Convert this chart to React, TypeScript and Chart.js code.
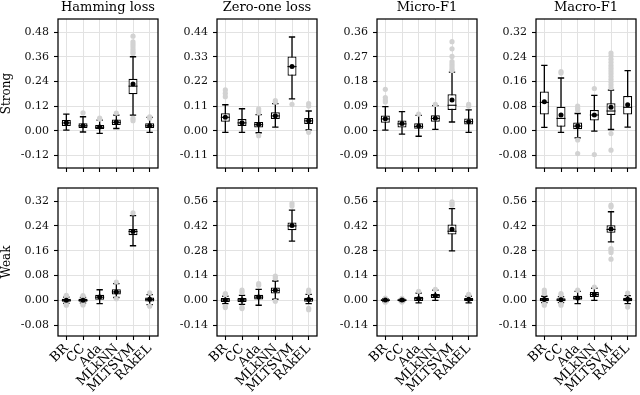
import React, { useEffect, useRef } from "react";
import { Chart, registerables } from "chart.js";
Chart.register(...registerables);

const methods = ["BR", "CC", "Ada", "MLkNN", "MLTSVM", "RAkEL"];
const metrics = ["Hamming loss", "Zero-one loss", "Micro-F1", "Macro-F1"];
const settings = ["Strong", "Weak"];

const strongTicks = [
  ["-0.12", "0.00", "0.12", "0.24", "0.36", "0.48"],
  ["-0.11", "0.00", "0.11", "0.22", "0.33", "0.44"],
  ["-0.09", "0.00", "0.09", "0.18", "0.27", "0.36"],
  ["-0.08", "0.00", "0.08", "0.16", "0.24", "0.32"],
];
const weakTicks = [
  ["-0.08", "0.00", "0.08", "0.16", "0.24", "0.32"],
  ["-0.14", "0.00", "0.14", "0.28", "0.42", "0.56"],
  ["-0.14", "0.00", "0.14", "0.28", "0.42", "0.56"],
  ["-0.14", "0.00", "0.14", "0.28", "0.42", "0.56"],
];

// each box: [lower whisker, Q1, median, Q3, upper whisker]
const strongHammingBoxes = [
  [0.003, 0.023, 0.038, 0.052, 0.081],
  [-0.006, 0.013, 0.024, 0.036, 0.068],
  [-0.013, 0.008, 0.017, 0.028, 0.052],
  [0.011, 0.028, 0.041, 0.055, 0.076],
  [0.076, 0.178, 0.217, 0.253, 0.36],
  [-0.008, 0.013, 0.024, 0.036, 0.065],
];
const strongHammingMeans = [0.039, 0.024, 0.018, 0.042, 0.227, 0.024];
const strongHammingOutliers = [
  [],
  [0.087],
  [0.062, 0.057],
  [0.086],
  [0.46, 0.432, 0.42, 0.408, 0.395, 0.384, 0.376, 0.06, 0.049],
  [0.068, 0.061],
];

const strongZeroOneBoxes = [
  [-0.007, 0.04, 0.06, 0.078, 0.116],
  [-0.007, 0.021, 0.035, 0.052, 0.098],
  [-0.009, 0.015, 0.027, 0.039, 0.072],
  [0.016, 0.052, 0.066, 0.082, 0.121],
  [0.142, 0.245, 0.286, 0.331, 0.418],
  [0.004, 0.03, 0.044, 0.057, 0.088],
];
const strongZeroOneMeans = [0.06, 0.036, 0.028, 0.067, 0.286, 0.045];
const strongZeroOneOutliers = [
  [0.182, 0.167, 0.152],
  [],
  [0.098, 0.089, 0.08, -0.022],
  [0.134, 0.128],
  [0.118],
  [0.121, 0.11, -0.007],
];

const strongMicroBoxes = [
  [0.002, 0.029, 0.043, 0.056, 0.088],
  [-0.012, 0.012, 0.025, 0.037, 0.07],
  [-0.02, 0.007, 0.016, 0.027, 0.056],
  [0.005, 0.033, 0.045, 0.057, 0.092],
  [0.032, 0.076, 0.093, 0.133, 0.214],
  [-0.006, 0.023, 0.033, 0.045, 0.076],
];
const strongMicroMeans = [0.044, 0.026, 0.017, 0.046, 0.112, 0.033];
const strongMicroOutliers = [
  [0.151, 0.121, 0.112, 0.105],
  [],
  [0.061],
  [0.096],
  [0.325, 0.299, 0.271, 0.252, 0.243, 0.234, 0.226, 0.22],
  [0.096, 0.09],
];

const strongMacroBoxes = [
  [0.011, 0.053, 0.092, 0.127, 0.212],
  [-0.005, 0.013, 0.04, 0.078, 0.171],
  [-0.023, 0.005, 0.015, 0.027, 0.056],
  [-0.001, 0.033, 0.051, 0.067, 0.115],
  [0.004, 0.051, 0.064, 0.089, 0.132],
  [0.012, 0.053, 0.076, 0.113, 0.195],
];
const strongMacroMeans = [0.094, 0.051, 0.016, 0.051, 0.076, 0.084];
const strongMacroOutliers = [
  [],
  [0.192, 0.187],
  [0.08, 0.073, 0.067, -0.03, -0.074],
  [0.137, -0.077],
  [0.252, 0.243, 0.232, 0.222, 0.212, 0.203, 0.194, 0.185, 0.176, 0.167, 0.158, 0.149, 0.14, -0.009, -0.063],
  [],
];

const weakHammingBoxes = [
  [-0.01, -0.005, 0.0, 0.005, 0.01],
  [-0.009, -0.005, 0.0, 0.005, 0.009],
  [-0.011, 0.002, 0.01, 0.018, 0.034],
  [0.009, 0.019, 0.027, 0.036, 0.054],
  [0.176, 0.21, 0.222, 0.23, 0.273],
  [-0.014, -0.004, 0.003, 0.009, 0.018],
];
const weakHammingMeans = [0.0, 0.0, 0.011, 0.027, 0.222, 0.003];
const weakHammingOutliers = [
  [0.016, 0.013, -0.013, -0.016],
  [0.015, 0.012, -0.012, -0.015],
  [],
  [0.059, 0.005],
  [0.282],
  [0.024, -0.019],
];

const weakZeroOneBoxes = [
  [-0.019, -0.009, 0.002, 0.013, 0.023],
  [-0.023, -0.009, 0.002, 0.013, 0.028],
  [-0.028, 0.004, 0.018, 0.032, 0.062],
  [0.006, 0.038, 0.056, 0.072, 0.109],
  [0.334, 0.396, 0.42, 0.439, 0.509],
  [-0.019, -0.008, 0.004, 0.015, 0.034],
];
const weakZeroOneMeans = [0.002, 0.002, 0.019, 0.057, 0.422, 0.004];
const weakZeroOneOutliers = [
  [0.038, 0.032, -0.035, -0.041],
  [0.057, 0.045, -0.04, -0.047],
  [0.094, 0.085],
  [0.136, 0.125, -0.006],
  [0.547, 0.532],
  [0.057, 0.045, -0.045, -0.053],
];

const weakMicroBoxes = [
  [-0.008, -0.004, 0.001, 0.006, 0.009],
  [-0.007, -0.004, 0.001, 0.006, 0.008],
  [-0.015, -0.004, 0.009, 0.02, 0.041],
  [0.0, 0.013, 0.026, 0.036, 0.057],
  [0.279, 0.371, 0.39, 0.428, 0.518],
  [-0.015, -0.004, 0.005, 0.013, 0.023],
];
const weakMicroMeans = [0.001, 0.001, 0.009, 0.026, 0.401, 0.006];
const weakMicroOutliers = [
  [0.013, -0.011],
  [0.011, -0.01],
  [0.051],
  [0.062],
  [0.556, 0.547, 0.537],
  [0.034, 0.028],
];

const weakMacroBoxes = [
  [-0.013, -0.006, 0.003, 0.013, 0.023],
  [-0.013, -0.006, 0.002, 0.011, 0.021],
  [-0.019, 0.0, 0.012, 0.026, 0.05],
  [0.0, 0.019, 0.033, 0.047, 0.068],
  [0.33, 0.381, 0.4, 0.424, 0.5],
  [-0.019, -0.006, 0.005, 0.015, 0.026],
];
const weakMacroMeans = [0.004, 0.003, 0.013, 0.034, 0.403, 0.006];
const weakMacroOutliers = [
  [0.057, 0.047, 0.038, -0.02, -0.028],
  [0.038, 0.03, -0.02, -0.028],
  [0.057],
  [0.075],
  [0.537, 0.528, 0.292, 0.283, 0.27, 0.232],
  [0.041, -0.038],
];

type PanelDef = {
  row: number;
  col: number;
  boxes: number[][];
  means: number[];
  outliers: number[][];
  ticks: string[];
};

const panels: PanelDef[] = [
  { row: 0, col: 0, boxes: strongHammingBoxes, means: strongHammingMeans, outliers: strongHammingOutliers, ticks: strongTicks[0] },
  { row: 0, col: 1, boxes: strongZeroOneBoxes, means: strongZeroOneMeans, outliers: strongZeroOneOutliers, ticks: strongTicks[1] },
  { row: 0, col: 2, boxes: strongMicroBoxes, means: strongMicroMeans, outliers: strongMicroOutliers, ticks: strongTicks[2] },
  { row: 0, col: 3, boxes: strongMacroBoxes, means: strongMacroMeans, outliers: strongMacroOutliers, ticks: strongTicks[3] },
  { row: 1, col: 0, boxes: weakHammingBoxes, means: weakHammingMeans, outliers: weakHammingOutliers, ticks: weakTicks[0] },
  { row: 1, col: 1, boxes: weakZeroOneBoxes, means: weakZeroOneMeans, outliers: weakZeroOneOutliers, ticks: weakTicks[1] },
  { row: 1, col: 2, boxes: weakMicroBoxes, means: weakMicroMeans, outliers: weakMicroOutliers, ticks: weakTicks[2] },
  { row: 1, col: 3, boxes: weakMacroBoxes, means: weakMacroMeans, outliers: weakMacroOutliers, ticks: weakTicks[3] },
];

// layout (pixels)
const FONT = "'DejaVu Serif', serif";
const PLOT_LEFT = [58, 217, 377, 536];
const AXIS_W = 58;
const CANVAS_W = 162;
const ROW_TOP = [0, 180];
const ROW_H = [180, 215];
const ROW_PAD_TOP = [0, 8];
const X_AXIS_H = [12, 59];
const LIMIT_FACTORS = [
  [-1.51, 4.53],
  [-1.44, 4.53],
];
const GRID = "#e2e2e2";

function PanelChart({ p }: { p: PanelDef }) {
  const ref = useRef<HTMLCanvasElement>(null);
  useEffect(() => {
    const canvas = ref.current;
    if (!canvas) return;
    const vals = p.ticks.map(Number);
    const step = vals[1] - vals[0];
    const [fLo, fHi] = LIMIT_FACTORS[p.row];
    const outlierPts = p.outliers.flatMap((list, i) => list.map((v) => ({ x: methods[i], y: v })));

    const boxPlugin = {
      id: "boxParts",
      beforeDatasetsDraw(chart: any) {
        const { ctx } = chart;
        const xs = chart.scales.x;
        const ys = chart.scales.y;
        const cap = (xs.width / methods.length) * 0.19;
        ctx.save();
        ctx.strokeStyle = "#000";
        ctx.lineWidth = 1.3;
        p.boxes.forEach((b, i) => {
          const cx = xs.getPixelForValue(i);
          const yl = ys.getPixelForValue(b[0]);
          const yh = ys.getPixelForValue(b[4]);
          ctx.beginPath();
          ctx.moveTo(cx, yl);
          ctx.lineTo(cx, yh);
          ctx.moveTo(cx - cap, yl);
          ctx.lineTo(cx + cap, yl);
          ctx.moveTo(cx - cap, yh);
          ctx.lineTo(cx + cap, yh);
          ctx.stroke();
        });
        ctx.restore();
      },
      afterDatasetDraw(chart: any, args: any) {
        if (args.index !== 1) return;
        const { ctx } = chart;
        const ys = chart.scales.y;
        const meta = chart.getDatasetMeta(1);
        ctx.save();
        ctx.strokeStyle = "#000";
        ctx.lineWidth = 1.1;
        meta.data.forEach((bar: any, i: number) => {
          const hw = bar.width / 2;
          const y = ys.getPixelForValue(p.boxes[i][2]);
          ctx.beginPath();
          ctx.moveTo(bar.x - hw, y);
          ctx.lineTo(bar.x + hw, y);
          ctx.stroke();
        });
        ctx.restore();
      },
      afterDraw(chart: any) {
        const { ctx, chartArea } = chart;
        ctx.save();
        ctx.strokeStyle = "#000";
        ctx.lineWidth = 1.25;
        ctx.strokeRect(chartArea.left, chartArea.top, chartArea.right - chartArea.left, chartArea.bottom - chartArea.top);
        ctx.restore();
      },
    };

    const chart = new Chart(canvas, {
      type: "bar",
      data: {
        labels: methods,
        datasets: [
          {
            type: "line",
            data: p.means,
            showLine: false,
            pointRadius: 2.5,
            pointBackgroundColor: "#000",
            pointBorderColor: "#000",
            pointBorderWidth: 0,
            order: 0,
          } as any,
          {
            type: "bar",
            data: p.boxes.map((b) => [b[1], b[3]]),
            backgroundColor: "#fff",
            borderColor: "#000",
            borderWidth: 1.25,
            borderSkipped: false,
            barPercentage: 0.54,
            categoryPercentage: 1,
            order: 1,
          } as any,
          {
            type: "line",
            data: outlierPts,
            showLine: false,
            pointRadius: 2.6,
            pointBackgroundColor: "#d2d2d2",
            pointBorderColor: "#d2d2d2",
            pointBorderWidth: 0,
            order: 2,
          } as any,
        ],
      },
      options: {
        responsive: false,
        animation: false,
        devicePixelRatio: 1,
        events: [],
        layout: { padding: { top: ROW_PAD_TOP[p.row], bottom: 0, left: 0, right: 1 } },
        plugins: {
          legend: { display: false },
          tooltip: { enabled: false },
          title: {
            display: p.row === 0,
            text: metrics[p.col],
            fullSize: false,
            color: "#000",
            font: { family: FONT, size: 13, weight: "normal", lineHeight: 1.1 },
            padding: { top: 0, bottom: 4.7 },
          },
        },
        scales: {
          x: {
            type: "category",
            offset: true,
            border: { display: false },
            grid: { offset: false, color: GRID, lineWidth: 1, tickColor: "#000", tickLength: 4, tickWidth: 1.1 },
            ticks: {
              display: p.row === 1,
              autoSkip: false,
              minRotation: 45,
              maxRotation: 45,
              padding: 1,
              color: "#000",
              font: { family: FONT, size: 13 },
            },
            afterFit: (s: any) => {
              s.height = X_AXIS_H[p.row];
              s.paddingLeft = 0;
              s.paddingRight = 0;
            },
          },
          y: {
            type: "linear",
            min: fLo * step,
            max: fHi * step,
            border: { display: false },
            grid: { color: GRID, lineWidth: 1, tickColor: "#000", tickLength: 4, tickWidth: 1.1 },
            afterBuildTicks: (s: any) => {
              s.ticks = vals.map((v) => ({ value: v }));
            },
            ticks: {
              padding: 5,
              color: "#111",
              font: { family: FONT, size: 11 },
              callback: (_v: any, i: number) => p.ticks[i],
            },
            title: {
              display: p.col === 0,
              text: settings[p.row],
              color: "#000",
              font: { family: FONT, size: 12 },
              padding: { top: 0, bottom: 0 },
            },
            afterFit: (s: any) => {
              s.width = AXIS_W;
              s.paddingTop = 0;
              s.paddingBottom = 0;
            },
          },
        },
      } as any,
      plugins: [boxPlugin],
    });
    return () => chart.destroy();
  }, [p]);

  return (
    <canvas
      ref={ref}
      width={CANVAS_W}
      height={ROW_H[p.row]}
      style={{
        position: "absolute",
        left: PLOT_LEFT[p.col] - AXIS_W,
        top: ROW_TOP[p.row],
        width: CANVAS_W,
        height: ROW_H[p.row],
        display: "block",
      }}
    />
  );
}

export default function App() {
  return (
    <div
      style={{
        position: "fixed",
        left: 0,
        top: 0,
        width: 640,
        height: 395,
        background: "#fff",
        overflow: "hidden",
      }}
    >
      {panels.map((p) => (
        <PanelChart key={`${p.row}-${p.col}`} p={p} />
      ))}
    </div>
  );
}
